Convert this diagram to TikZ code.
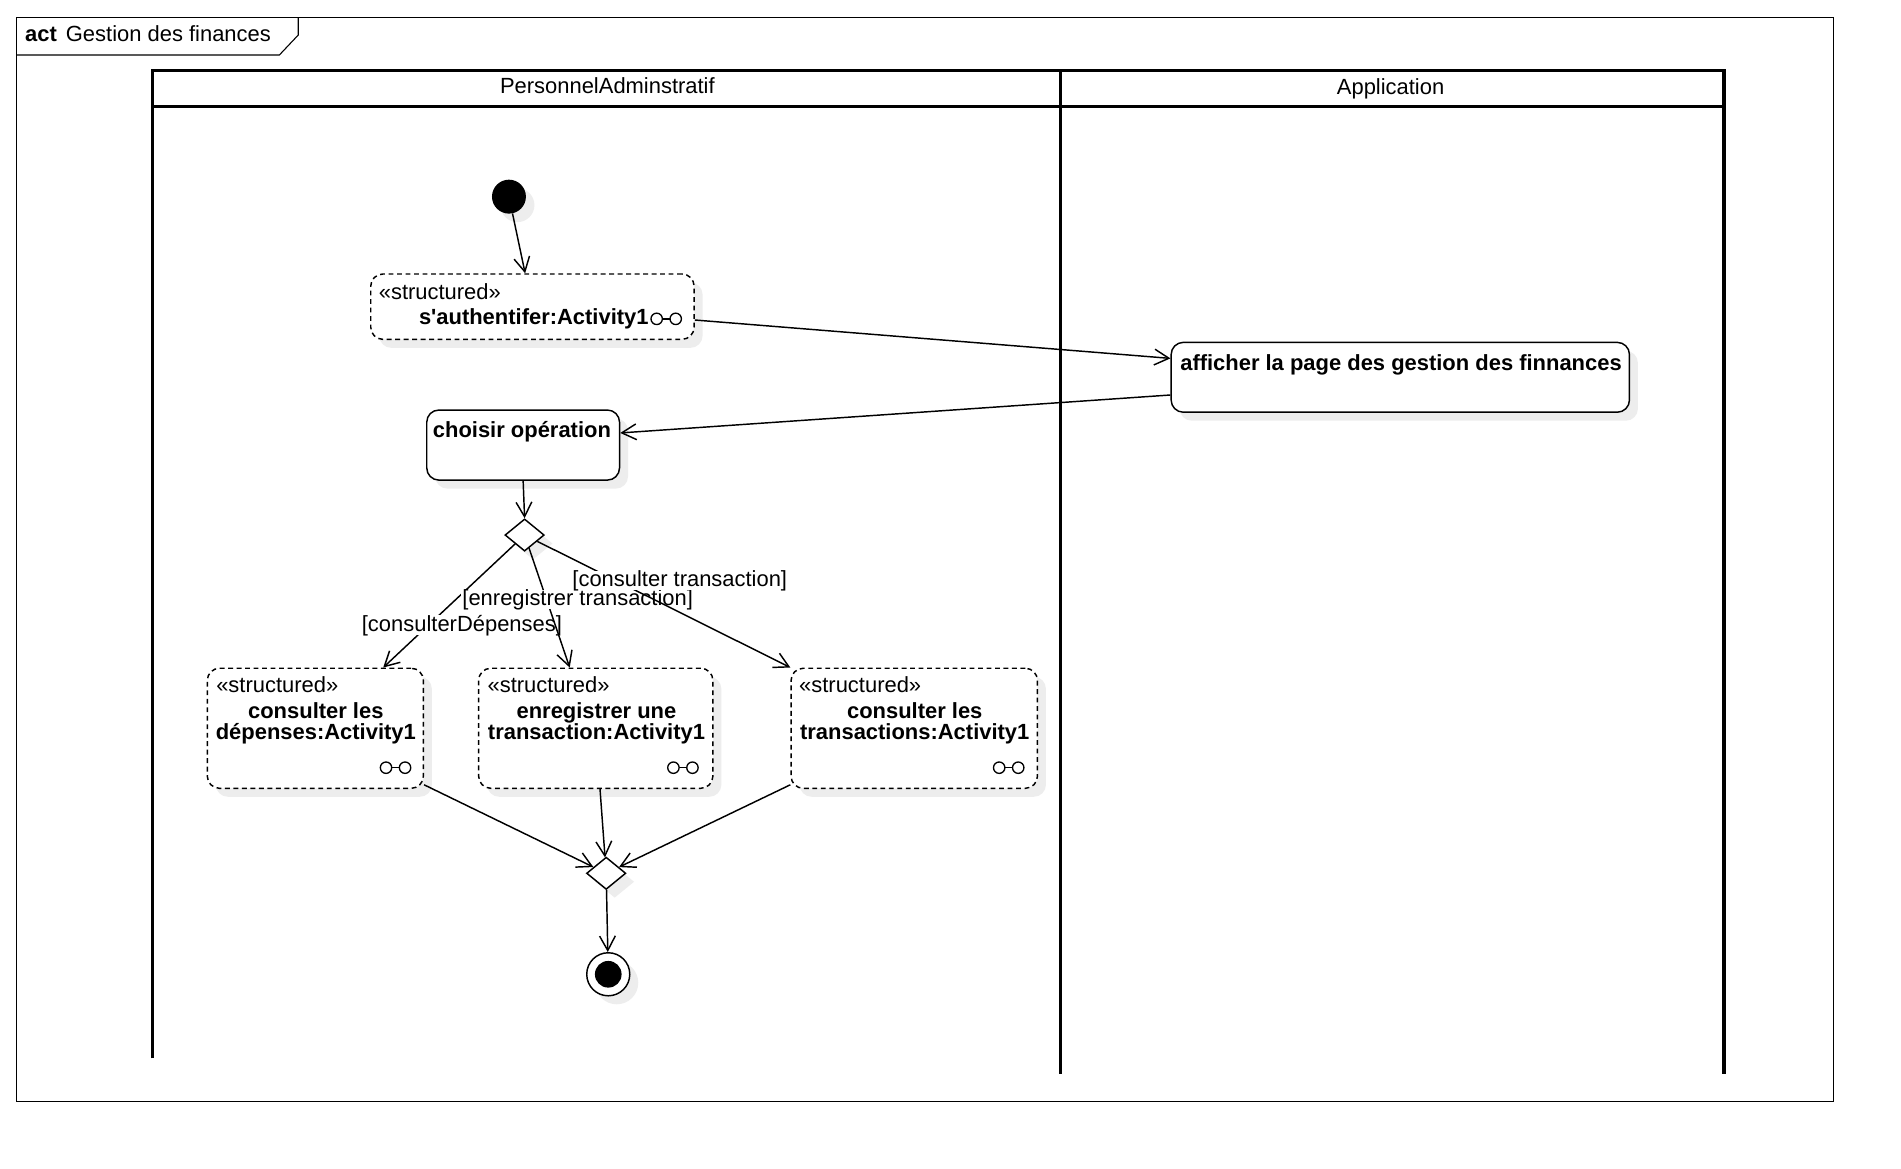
\documentclass[tikz,border=0pt]{standalone}
\usepackage{fontspec}
\setmainfont{Liberation Sans}[Ligatures=TeXOff]
\usetikzlibrary{arrows.meta,shapes.geometric,shadows,calc}
\tikzset{
  txt/.style={font=\fontsize{18.1}{20}\selectfont, inner sep=0pt, text height=10pt, text depth=0pt},
  btxt/.style={txt, font=\bfseries\fontsize{18.1}{20}\selectfont},
  guard/.style={txt, fill=white, inner xsep=1pt, inner ysep=3pt},
  framel/.style={line width=0.9pt},
  lane/.style={line width=2.7pt},
  shade/.style={drop shadow={shadow xshift=7pt, shadow yshift=-7pt, fill=black!7, opacity=1}},
  actbox/.style={draw, fill=white, rounded corners=10pt, line width=1.2pt, inner sep=0pt, shade},
  strbox/.style={actbox, dash pattern=on 4pt off 3pt},
  decision/.style={diamond, draw, fill=white, line width=1.2pt, inner sep=0pt, minimum width=32.4pt, minimum height=26.6pt, shade},
  flow/.style={line width=1.2pt, -{Straight Barb[length=12pt,width=13pt,line width=1.2pt]}},
  ports/.pic={
    \draw[line width=1.1pt] (-3.15,0) -- (3.15,0);
    \draw[line width=1.1pt, fill=white] (-7.85,0) circle[radius=4.7pt] (7.85,0) circle[radius=4.7pt];
  }
}
\begin{document}
\begin{tikzpicture}[x=1pt,y=-1pt]
\fill[white] (0,0) rectangle (1568,964);
\useasboundingbox (0,0) rectangle (1568,964);

% frame and title tab
\draw[framel] (13.7,14.3) rectangle (1512,908.7);
\draw[framel] (13.7,45.4) -- (230.4,45.4) -- (246,28.9) -- (246,14.3);
\node[txt, anchor=west] (title) at (20.6,29) {\textbf{act}\hspace{7.4pt}Gestion des finances};

% swimlanes
\draw[lane] (126,873) -- (126,58.3) -- (1422,58.3) -- (1422,886);
\draw[lane] (126,88) -- (1422,88);
\draw[lane] (875,58.3) -- (875,886);
\node[txt] (laneA) at (501,72.5) {PersonnelAdminstratif};
\node[txt] (laneB) at (1147,72.9) {Application};

% nodes
\node[circle, fill=black, inner sep=0pt, minimum size=28pt, shade] (init) at (419.8,162.2) {};

\node[strbox, minimum width=266.7pt, minimum height=53.9pt] (box1) at (439.15,252.95) {};
\node[txt, anchor=west] (st1) at (312.3,241.9) {«structured»};
\node[btxt, anchor=west] (t1) at (345.4,263) {s'authentifer:Activity1};
\pic at (549.5,263) {ports};

\node[actbox, minimum width=378pt, minimum height=57.6pt] (box2) at (1155,311.2) {};
\node[btxt] (t2) at (1155.6,301) {afficher la page des gestion des finnances};

\node[actbox, minimum width=159pt, minimum height=57.8pt] (box3) at (431.5,367.1) {};
\node[btxt] (t3) at (430.5,356) {choisir opération};

\node[decision] (dec1) at (432.7,441.3) {};

\node[strbox, minimum width=178.2pt, minimum height=99pt] (boxA) at (260.1,600.7) {};
\node[txt, anchor=west] (stA) at (178.2,565.8) {«structured»};
\node[btxt] (tA1) at (260.5,587.5) {consulter les};
\node[btxt] (tA2) at (260.5,604.9) {dépenses:Activity1};
\pic at (326.25,633.2) {ports};

\node[strbox, minimum width=193.2pt, minimum height=99pt] (boxB) at (491.4,600.7) {};
\node[txt, anchor=west] (stB) at (402,565.8) {«structured»};
\node[btxt] (tB1) at (492,587.5) {enregistrer une};
\node[btxt] (tB2) at (492,604.9) {transaction:Activity1};
\pic at (563.3,633.2) {ports};

\node[strbox, minimum width=203.2pt, minimum height=99pt] (boxC) at (754.1,600.7) {};
\node[txt, anchor=west] (stC) at (659,565.8) {«structured»};
\node[btxt] (tC1) at (754.5,587.5) {consulter les};
\node[btxt] (tC2) at (754.5,604.9) {transactions:Activity1};
\pic at (832,633.2) {ports};

\node[decision] (dec2) at (500,720.3) {};

\node[circle, draw, fill=white, line width=1.2pt, inner sep=0pt, minimum size=35.5pt, shade] (final) at (501.7,803.6) {};
\fill (final.center) circle[radius=11pt];

% flows
\draw[flow] (init) -- ([xshift=-6pt]box1.north);
\draw[flow] ([yshift=-11pt]box1.east) -- ([yshift=15.6pt]box2.west);
\draw[flow] ([yshift=-14.6pt]box2.west) -- ([yshift=10pt]box3.east);
\draw[flow] (box3.south) -- (dec1.north);

\draw[flow] (dec1) -- ([xshift=56pt]boxA.north);
\node[guard] (gA) at (381,515.5) {[consulterDépenses]};
\draw[flow] (dec1) -- ([xshift=-21.5pt]boxB.north);
\node[guard] (gB) at (476.5,494.3) {[enregistrer transaction]};
\draw[flow] (dec1) -- (boxC.north west);
\node[guard] (gC) at (560.7,479) {[consulter transaction]};

\draw[flow] ([yshift=3.5pt]boxA.south east) -- (dec2);
\draw[flow] ([xshift=3.5pt]boxB.south) -- (dec2);
\draw[flow] ([yshift=3.5pt]boxC.south west) -- (dec2);
\draw[flow] (dec2) -- (final);
\end{tikzpicture}
\end{document}
